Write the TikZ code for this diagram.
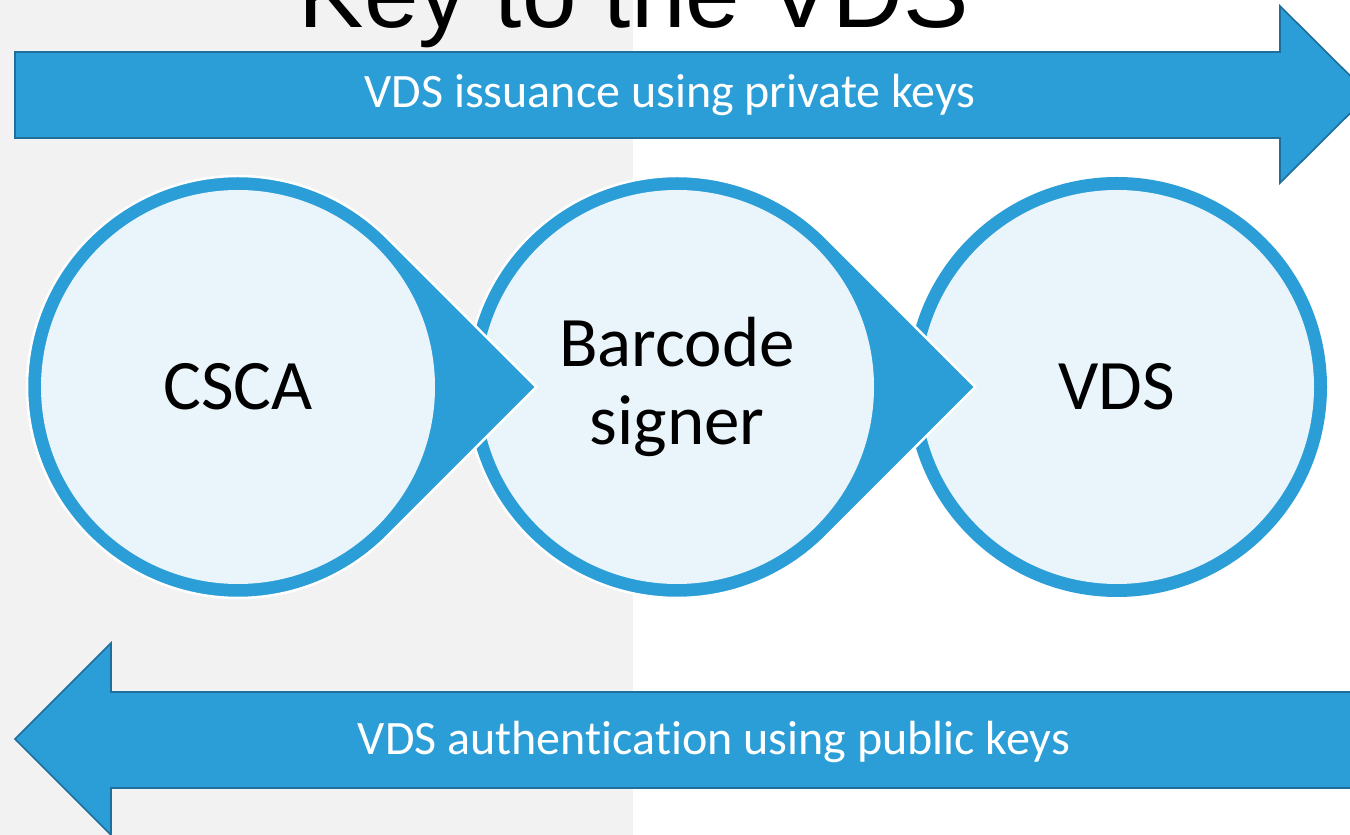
\documentclass[tikz,border=0pt]{standalone}
\usepackage{fontspec}
\usetikzlibrary{calc}
\setmainfont{Carlito}[Ligatures=NoCommon]
\newfontfamily\titlefont{Liberation Sans}
\definecolor{bgGray}{HTML}{F2F2F2}
\definecolor{mainBlue}{HTML}{2B9ED8}
\definecolor{edgeBlue}{HTML}{1F6E9C}
\definecolor{paleBlue}{HTML}{E9F4FB}
\tikzset{
  bigarrow/.style={fill=mainBlue, draw=edgeBlue, line width=1.6pt, line join=miter},
  arrowtext/.style={text=white, font=\fontsize{48}{56}\selectfont, inner sep=0pt, anchor=base},
  bubble/.style={fill=mainBlue, draw=white, line width=2.5pt, line join=miter},
  innercircle/.style={circle, fill=paleBlue, minimum size=394pt, inner sep=0pt,
    align=center, font=\fontsize{71}{78}\selectfont, text=black},
}
\begin{document}
\begin{tikzpicture}[x=1pt,y=1pt]
\useasboundingbox (0,0) rectangle (1350,835);
\clip (0,0) rectangle (1350,835);
% backgrounds
\fill[white] (0,0) rectangle (1350,835);
\fill[bgGray] (0,0) rectangle (633,835);
% title (cut off at top)
\node[anchor=base, inner sep=0pt, font=\titlefont\fontsize{98}{110}\selectfont] (title) at (634,807) {Key to the VDS};
% top arrow
\draw[bigarrow] (15,697) -- (1280,697) -- (1280,652) -- (1369,740.5) -- (1280,829) -- (1280,783) -- (15,783) -- cycle;
\node[arrowtext] (issue) at (670,727) {VDS issuance using private keys};
% bottom arrow
\draw[bigarrow] (1410,47) -- (111,47) -- (111,0) -- (15,96) -- (111,192) -- (111,143) -- (1410,143) -- cycle;
\node[arrowtext] (auth) at (714,80) {VDS authentication using public keys};
% circles (drawn right to left so pointers lie on top)
\coordinate (cV) at (1117,448);
\coordinate (cB) at (677,448);
\coordinate (cC) at (238,448);
\fill[white] (cV) circle[radius=212.2pt];
\fill[mainBlue] (cV) circle[radius=210pt];
\node[innercircle] (vds) at (cV) {VDS};
\draw[bubble] ($(cB)+(45:211pt)$) -- ($(cB)+(0:298.4pt)$) -- ($(cB)+(-45:211pt)$)
  arc[start angle=-45, end angle=-315, radius=211pt] -- cycle;
\node[innercircle] (signer) at (cB) {Barcode\\signer};
\draw[bubble] ($(cC)+(45:211pt)$) -- ($(cC)+(0:298.4pt)$) -- ($(cC)+(-45:211pt)$)
  arc[start angle=-45, end angle=-315, radius=211pt] -- cycle;
\node[innercircle] (csca) at (cC) {CSCA};
\end{tikzpicture}
\end{document}
